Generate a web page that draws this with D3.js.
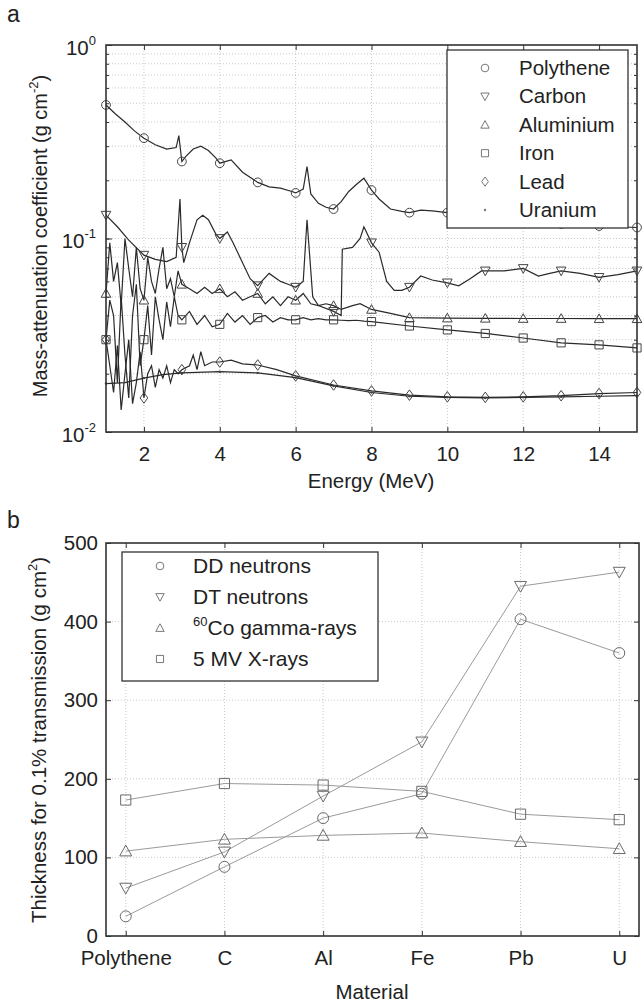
<!DOCTYPE html>
<html>
<head>
<meta charset="utf-8">
<script src="https://cdn.jsdelivr.net/npm/d3@7"></script>
<style>
body{margin:0;background:#fff;}
text{font-family:"Liberation Sans",Arial,sans-serif;fill:#222;}
</style>
</head>
<body>
<div id="canvas"></div>
<script>
//Global var.
var width = 644;
var height = 1005;
var FS = 20.5; //文字サイズ

// --- panel a : mass-attenuation coefficient vs energy ---
var ePoly = [1,1.25,1.5,1.75,2,2.3,2.6,2.85,2.92,3,3.1,3.3,3.5,3.7,3.9,4,4.3,4.6,5,5.3,5.6,5.9,6,6.2,6.3,6.4,6.6,6.8,7,7.2,7.4,7.6,7.8,8,8.2,8.5,8.8,9,9.3,9.6,10,10.5,11,12,13,14,15];
var vPoly = [0.49,0.44,0.40,0.36,0.33,0.305,0.29,0.295,0.34,0.25,0.265,0.29,0.30,0.285,0.26,0.245,0.255,0.22,0.195,0.185,0.182,0.175,0.172,0.18,0.235,0.17,0.152,0.145,0.142,0.155,0.175,0.19,0.205,0.178,0.16,0.142,0.138,0.136,0.14,0.139,0.136,0.132,0.128,0.123,0.119,0.116,0.114];

var eCarbon = [1,1.3,1.6,2,2.3,2.6,2.85,2.95,3,3.05,3.2,3.4,3.55,3.7,3.9,4,4.2,4.35,4.6,4.8,5,5.3,5.6,5.8,6,6.2,6.3,6.45,6.6,7,7.2,7.23,7.5,7.7,7.8,8,8.2,8.4,8.6,8.8,9,9.3,9.6,10,10.3,10.6,10.9,11,11.5,12,12.4,12.7,13,13.5,14,14.5,15];
var vCarbon = [0.132,0.115,0.098,0.082,0.078,0.076,0.08,0.16,0.09,0.075,0.095,0.125,0.132,0.125,0.105,0.1,0.108,0.095,0.075,0.062,0.057,0.066,0.06,0.058,0.056,0.06,0.125,0.05,0.045,0.042,0.04,0.088,0.09,0.1,0.115,0.095,0.085,0.06,0.054,0.054,0.056,0.064,0.061,0.059,0.057,0.062,0.068,0.068,0.068,0.07,0.064,0.066,0.068,0.066,0.063,0.065,0.068];

var eAl = [1,1.1,1.2,1.3,1.4,1.5,1.6,1.7,1.8,1.9,2,2.1,2.2,2.3,2.4,2.5,2.6,2.7,2.8,2.9,3,3.2,3.4,3.6,3.8,4,4.2,4.4,4.6,4.8,5,5.2,5.4,5.6,5.8,6,6.2,6.4,6.6,6.8,7,7.2,7.5,7.7,8,8.5,9,10,11,12,13,14,15];
var vAl = [0.052,0.095,0.06,0.075,0.045,0.1,0.07,0.05,0.09,0.055,0.048,0.08,0.06,0.052,0.07,0.09,0.055,0.062,0.05,0.068,0.058,0.055,0.052,0.056,0.052,0.055,0.05,0.053,0.048,0.05,0.052,0.046,0.05,0.045,0.05,0.048,0.052,0.046,0.045,0.046,0.045,0.043,0.045,0.046,0.043,0.041,0.039,0.0388,0.0387,0.0386,0.0386,0.0385,0.0385];

var eFe = [1,1.1,1.2,1.3,1.4,1.5,1.6,1.7,1.8,1.9,2,2.1,2.2,2.3,2.4,2.5,2.6,2.7,2.8,2.9,3,3.2,3.4,3.6,3.8,4,4.2,4.4,4.6,4.8,5,5.2,5.4,5.6,5.8,6,6.2,6.4,6.6,6.8,7,7.2,7.4,7.6,7.8,8,9,10,11,12,13,14,15];
var vFe = [0.03,0.048,0.04,0.018,0.05,0.025,0.015,0.04,0.058,0.022,0.03,0.045,0.025,0.05,0.038,0.03,0.047,0.035,0.05,0.04,0.038,0.042,0.036,0.04,0.035,0.036,0.041,0.037,0.04,0.036,0.039,0.04,0.037,0.039,0.038,0.038,0.039,0.038,0.0385,0.038,0.038,0.0378,0.0376,0.0378,0.0374,0.0372,0.0353,0.0337,0.0323,0.0306,0.0289,0.0282,0.0272];

var ePb = [1,1.1,1.2,1.3,1.4,1.5,1.6,1.7,1.8,1.9,2,2.1,2.2,2.3,2.4,2.5,2.6,2.7,2.8,2.9,3,3.2,3.3,3.4,3.5,3.6,3.8,4,4.3,4.6,5,5.5,6,7,8,9,10,11,12,13,14,15];
var vPb = [0.03,0.022,0.016,0.028,0.013,0.02,0.03,0.014,0.018,0.026,0.015,0.02,0.022,0.017,0.021,0.019,0.022,0.018,0.021,0.02,0.021,0.022,0.025,0.021,0.026,0.022,0.023,0.023,0.0235,0.0225,0.0222,0.021,0.0195,0.0175,0.0163,0.0155,0.0152,0.0151,0.0152,0.0154,0.0158,0.016];

var eU = [1,1.5,2,2.5,3,4,5,6,7,8,9,10,11,12,13,14,15];
var vU = [0.0178,0.018,0.019,0.0198,0.0202,0.0205,0.0202,0.0191,0.0173,0.016,0.0153,0.0151,0.015,0.0151,0.0152,0.0153,0.0154];

var namesA = ["Polythene","Carbon","Aluminium","Iron","Lead","Uranium"];
var xTicksA = [2,4,6,8,10,12,14];
var yTicksA = [0.01,0.1,1];

// --- panel b : thickness for 0.1% transmission ---
var materials = ["Polythene","C","Al","Fe","Pb","U"];
var ddNeutrons = [25,88,150,181,403,360];
var dtNeutrons = [61,107,178,247,445,463];
var coGamma = [108,123,128,131,120,111];
var xRays = [173,194,192,184,155,148];
var namesB = ["DD neutrons","DT neutrons","60Co gamma-rays","5 MV X-rays"];
var yTicksB = [0,100,200,300,400,500];

var svg = d3.select("div#canvas").append("svg")
    .attr("width", width)
    .attr("height", height);

//マーカー
function marker(g, kind, x, y, s, col){
    var p;
    if(kind == "circle"){
        g.append("circle").attr("cx", x).attr("cy", y).attr("r", s*0.55)
            .attr("fill", "none").attr("stroke", col).attr("stroke-width", 1);
        return;
    }
    if(kind == "dot"){
        g.append("circle").attr("cx", x).attr("cy", y).attr("r", 1.2).attr("fill", col);
        return;
    }
    var h = s*0.6;
    if(kind == "down") p = [[x-h,y-h*0.8],[x+h,y-h*0.8],[x,y+h]];
    if(kind == "up") p = [[x-h,y+h*0.8],[x+h,y+h*0.8],[x,y-h]];
    if(kind == "square") p = [[x-h*0.85,y-h*0.85],[x+h*0.85,y-h*0.85],[x+h*0.85,y+h*0.85],[x-h*0.85,y+h*0.85]];
    if(kind == "diamond") p = [[x,y-h*1.1],[x+h*0.8,y],[x,y+h*1.1],[x-h*0.8,y]];
    g.append("polygon").attr("points", p.map(function(d){return d.join(",");}).join(" "))
        .attr("fill", "none").attr("stroke", col).attr("stroke-width", 1);
}

function frame(g, x0, x1, y0, y1){
    g.append("rect").attr("x", x0).attr("y", y0).attr("width", x1-x0).attr("height", y1-y0)
        .attr("fill", "none").attr("stroke", "#333").attr("stroke-width", 1.6);
}

// ================= panel a =================
var ax = d3.scaleLinear().domain([1,15]).range([106,637]);
var ay = d3.scaleLog().domain([0.01,1]).range([432,45]);
var ga = svg.append("g");

//grid
var minorA = [];
[0.01,0.1].forEach(function(dec){
    for(var k=1;k<10;k++) minorA.push(dec*k);
});
ga.selectAll("line.hg").data(minorA.filter(function(d){return d>0.01;})).enter().append("line")
    .attr("x1", 106).attr("x2", 637)
    .attr("y1", function(d){return ay(d);}).attr("y2", function(d){return ay(d);})
    .attr("stroke", "#bbb").attr("stroke-width", 0.8).attr("stroke-dasharray", "1,2");
ga.selectAll("line.vg").data(xTicksA).enter().append("line")
    .attr("y1", 45).attr("y2", 432)
    .attr("x1", function(d){return ax(d);}).attr("x2", function(d){return ax(d);})
    .attr("stroke", "#bbb").attr("stroke-width", 0.8).attr("stroke-dasharray", "1,2");

//axes
ga.append("g").attr("transform", "translate(0,432)")
    .call(d3.axisBottom(ax).tickValues(xTicksA).tickSize(-5).tickPadding(14).tickFormat(d3.format("d")))
    .call(function(g){ g.select(".domain").remove(); g.selectAll("line").attr("stroke","#333");
        g.selectAll("text").attr("font-size", FS).attr("fill", "#222"); });
ga.append("g").attr("transform", "translate(0,45)")
    .call(d3.axisTop(ax).tickValues(xTicksA).tickSize(-5).tickFormat(""))
    .call(function(g){ g.select(".domain").remove(); g.selectAll("line").attr("stroke","#333"); });
ga.append("g").attr("transform", "translate(106,0)")
    .call(d3.axisLeft(ay).tickValues(minorA.filter(function(d){return d>0.01;})).tickSize(-3).tickFormat(""))
    .call(function(g){ g.select(".domain").remove(); g.selectAll("line").attr("stroke","#333"); });
ga.append("g").attr("transform", "translate(637,0)")
    .call(d3.axisRight(ay).tickValues(minorA.filter(function(d){return d>0.01;})).tickSize(-3).tickFormat(""))
    .call(function(g){ g.select(".domain").remove(); g.selectAll("line").attr("stroke","#333"); });
var yl = ga.append("g").attr("transform", "translate(106,0)")
    .call(d3.axisLeft(ay).tickValues(yTicksA).tickSize(-6).tickPadding(10).tickFormat(""));
yl.select(".domain").remove();
yl.selectAll("line").attr("stroke","#333");
yl.selectAll(".tick").each(function(d){
    var t = d3.select(this).append("text").attr("x", -10).attr("y", 9)
        .attr("text-anchor", "end").attr("font-size", FS);
    t.append("tspan").text("10");
    t.append("tspan").attr("dy", -10).attr("font-size", 13).text(Math.round(Math.log10(d)));
});

//curves
var seriesA = [
    {e: ePoly, v: vPoly, m: "circle"},
    {e: eCarbon, v: vCarbon, m: "down"},
    {e: eAl, v: vAl, m: "up"},
    {e: eFe, v: vFe, m: "square"},
    {e: ePb, v: vPb, m: "diamond"},
    {e: eU, v: vU, m: "dot"}
];
var lineA = d3.line().x(function(d){return ax(d[0]);}).y(function(d){return ay(d[1]);});
seriesA.forEach(function(s){
    var pts = s.e.map(function(e,i){return [e, s.v[i]];});
    ga.append("path").attr("d", lineA(pts))
        .attr("fill", "none").attr("stroke", "#2a2a2a").attr("stroke-width", 1.2);
    var mg = ga.append("g");
    pts.filter(function(d){return Number.isInteger(d[0]);}).forEach(function(d){
        marker(mg, s.m, ax(d[0]), ay(d[1]), 8, "#444");
    });
});
frame(ga, 106, 637, 45, 432);

//legend a
var lga = ga.append("g");
lga.append("rect").attr("x", 447).attr("y", 50).attr("width", 181).attr("height", 178)
    .attr("fill", "#fff").attr("stroke", "#333").attr("stroke-width", 1.3);
namesA.forEach(function(n,i){
    var yy = 68 + i*28.4;
    marker(lga, seriesA[i].m, 485, yy, 7, "#777");
    lga.append("text").attr("x", 519).attr("y", yy+7).attr("font-size", FS).text(n);
});

ga.append("text").attr("x", 371).attr("y", 488).attr("text-anchor", "middle").attr("font-size", FS).text("Energy (MeV)");
var yta = ga.append("text").attr("transform", "translate(47,236)rotate(-90)")
    .attr("text-anchor", "middle").attr("font-size", FS - 0.5);
yta.append("tspan").text("Mass-attenuation coefficient (g cm");
yta.append("tspan").attr("dy", -9).attr("font-size", 13).text("-2");
yta.append("tspan").attr("dy", 9).text(")");
svg.append("text").attr("x", 7).attr("y", 22).attr("font-size", 23).text("a");

// ================= panel b =================
var bx = d3.scaleLinear().domain([0.8,6.2]).range([106,639]);
var by = d3.scaleLinear().domain([0,500]).range([936,543]);
var gb = svg.append("g");

gb.selectAll("line.hg").data([100,200,300,400]).enter().append("line")
    .attr("x1", 106).attr("x2", 639)
    .attr("y1", function(d){return by(d);}).attr("y2", function(d){return by(d);})
    .attr("stroke", "#bbb").attr("stroke-width", 0.8).attr("stroke-dasharray", "1,2");
gb.selectAll("line.vg").data(materials).enter().append("line")
    .attr("y1", 543).attr("y2", 936)
    .attr("x1", function(d,i){return bx(i+1);}).attr("x2", function(d,i){return bx(i+1);})
    .attr("stroke", "#bbb").attr("stroke-width", 0.8).attr("stroke-dasharray", "1,2");

gb.append("g").attr("transform", "translate(0,936)")
    .call(d3.axisBottom(bx).tickValues([1,2,3,4,5,6]).tickSize(-5).tickPadding(14)
        .tickFormat(function(d){return materials[d-1];}))
    .call(function(g){ g.select(".domain").remove(); g.selectAll("line").attr("stroke","#333");
        g.selectAll("text").attr("font-size", FS).attr("fill", "#222"); });
gb.append("g").attr("transform", "translate(0,543)")
    .call(d3.axisTop(bx).tickValues([1,2,3,4,5,6]).tickSize(-5).tickFormat(""))
    .call(function(g){ g.select(".domain").remove(); g.selectAll("line").attr("stroke","#333"); });
gb.append("g").attr("transform", "translate(106,0)")
    .call(d3.axisLeft(by).tickValues(yTicksB).tickSize(-5).tickPadding(8).tickFormat(d3.format("d")))
    .call(function(g){ g.select(".domain").remove(); g.selectAll("line").attr("stroke","#333");
        g.selectAll("text").attr("font-size", FS).attr("fill", "#222"); });
gb.append("g").attr("transform", "translate(639,0)")
    .call(d3.axisRight(by).tickValues(yTicksB).tickSize(-5).tickFormat(""))
    .call(function(g){ g.select(".domain").remove(); g.selectAll("line").attr("stroke","#333"); });

var seriesB = [
    {v: ddNeutrons, m: "circle"},
    {v: dtNeutrons, m: "down"},
    {v: coGamma, m: "up"},
    {v: xRays, m: "square"}
];
var lineB = d3.line().x(function(d,i){return bx(i+1);}).y(function(d){return by(d);});
seriesB.forEach(function(s){
    gb.append("path").attr("d", lineB(s.v))
        .attr("fill", "none").attr("stroke", "#9a9a9a").attr("stroke-width", 1);
});
seriesB.forEach(function(s){
    var mg = gb.append("g");
    s.v.forEach(function(v,i){ marker(mg, s.m, bx(i+1), by(v), 10, "#6a6a6a"); });
});
frame(gb, 106, 639, 543, 936);

//legend b
var lgb = gb.append("g");
lgb.append("rect").attr("x", 122).attr("y", 552).attr("width", 256).attr("height", 129)
    .attr("fill", "#fff").attr("stroke", "#333").attr("stroke-width", 1.3);
namesB.forEach(function(n,i){
    var yy = 566 + i*31;
    marker(lgb, seriesB[i].m, 160, yy, 7, "#777");
    var t = lgb.append("text").attr("x", 193).attr("y", yy+7).attr("font-size", FS + 0.5);
    if(i == 2){
        t.append("tspan").attr("font-size", 13).attr("dy", -9).text("60");
        t.append("tspan").attr("dy", 9).text("Co gamma-rays");
    } else {
        t.text(n);
    }
});

gb.append("text").attr("x", 372).attr("y", 999).attr("text-anchor", "middle").attr("font-size", FS).text("Material");
var ytb = gb.append("text").attr("transform", "translate(46,740)rotate(-90)")
    .attr("text-anchor", "middle").attr("font-size", FS);
ytb.append("tspan").text("Thickness for 0.1% transmission (g cm");
ytb.append("tspan").attr("dy", -9).attr("font-size", 13).text("2");
ytb.append("tspan").attr("dy", 9).text(")");
svg.append("text").attr("x", 7).attr("y", 528).attr("font-size", 23).text("b");
</script>
</body>
</html>
